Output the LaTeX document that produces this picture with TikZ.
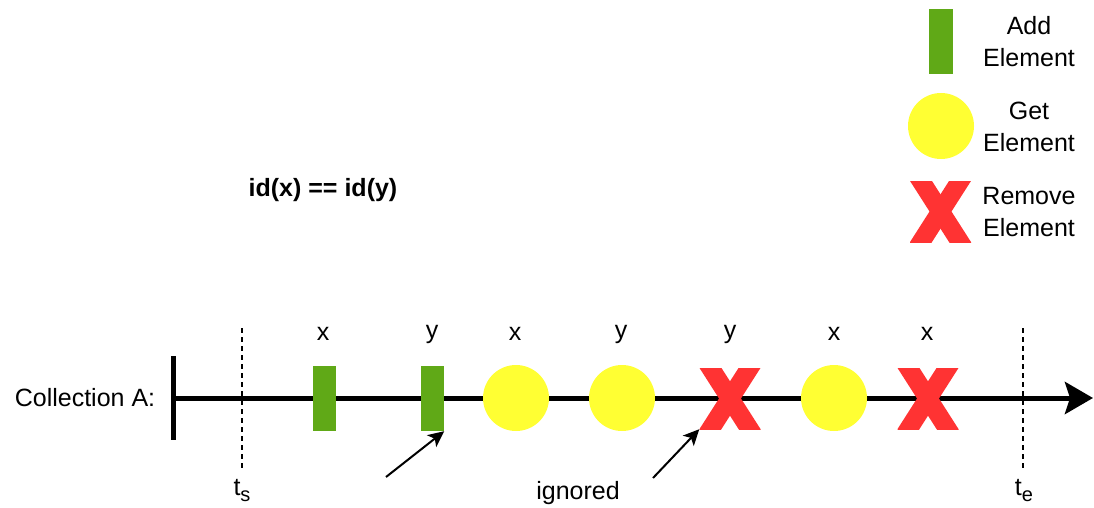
\documentclass[tikz,border=0pt]{standalone}
\usepackage{fontspec}
\setmainfont{Liberation Sans}
\usetikzlibrary{arrows.meta,calc}
\definecolor{addgreen}{HTML}{60A917}
\definecolor{getyellow}{HTML}{FFFF33}
\definecolor{remred}{HTML}{FF3333}
\begin{document}
\begin{tikzpicture}[x=1pt,y=-1pt,
  lbl/.style={inner sep=0pt,font=\fontsize{25}{32}\selectfont},
  legendtxt/.style={lbl,align=center},
  addbox/.style={fill=addgreen,draw=none,minimum width=23pt,minimum height=65pt,inner sep=0pt},
  getdot/.style={circle,fill=getyellow,draw=none,minimum size=66pt,inner sep=0pt},
  remarea/.style={draw=none,minimum width=61pt,minimum height=61pt,inner sep=0pt},
  guide/.style={line width=1.5pt,dash pattern=on 5pt off 4pt},
  pointer/.style={line width=2pt,-{Stealth[length=16pt,width=15pt,inset=4pt]}},
  remove/.pic={
    \begin{scope}
      \clip (-30.5,-30.5) rectangle (30.5,30.5);
      \draw[remred,line width=18.5pt] (-31,-48.5) -- (31,48.5);
      \draw[remred,line width=18.5pt] (31,-48.5) -- (-31,48.5);
    \end{scope}
  }]
\useasboundingbox (0,0) rectangle (1094,508);

% legend
\node[addbox,minimum width=24pt] (lgadd) at (941,41.5) {};
\node[legendtxt] (lgaddt) at (1029,42) {Add\\Element};
\node[getdot] (lgget) at (941,126) {};
\node[legendtxt] (lggett) at (1029,127) {Get\\Element};
\node[remarea] (lgrem) at (940.5,211.5) {};
\pic at (lgrem) {remove};
\node[legendtxt] (lgremt) at (1029,212) {Remove\\Element};

% condition
\node[lbl,font=\fontsize{25}{32}\selectfont\bfseries] (cond) at (323,190) {id(x) == id(y)};

% time window guides
\coordinate (tsTop) at (242,328);
\coordinate (tsBot) at (242,470);
\coordinate (teTop) at (1023,328);
\coordinate (teBot) at (1023,470);
\draw[guide] (tsTop) -- (tsBot);
\draw[guide] (teTop) -- (teBot);

% timeline
\coordinate (start) at (173,398);
\coordinate (stop) at (1093,398);
\draw[line width=5pt] (173,356) -- (173,440);
\draw[line width=5pt,-{Stealth[length=28pt,width=32pt,inset=5pt]}] (start) -- (stop);
\node[lbl] (coll) at (85,398) {Collection A:};

% operations
\node[addbox] (op1) at (324.5,398.5) {};
\node[addbox] (op2) at (432.5,398.5) {};
\node[getdot] (op3) at (516,398) {};
\node[getdot] (op4) at (622,398) {};
\node[remarea] (op5) at (730,398.5) {};
\pic at (op5) {remove};
\node[getdot] (op6) at (834,398) {};
\node[remarea] (op7) at (928,398.5) {};
\pic at (op7) {remove};

\node[lbl] (l1) at (323,334) {x};
\node[lbl] (l2) at (432,334) {y};
\node[lbl] (l3) at (515,334) {x};
\node[lbl] (l4) at (621,334) {y};
\node[lbl] (l5) at (730,334) {y};
\node[lbl] (l6) at (834,334) {x};
\node[lbl] (l7) at (927,334) {x};

% window bounds
\node[lbl] (ts) at (242,491) {t\raisebox{-6pt}{\fontsize{20}{20}\selectfont s}};
\node[lbl] (te) at (1024,491) {t\raisebox{-6pt}{\fontsize{20}{20}\selectfont e}};

% ignored operations
\node[lbl] (ign) at (578,493) {ignored};
\coordinate (p1) at (386,477);
\coordinate (p2) at (653,478);
\draw[pointer] (p1) -- (op2.south east);
\draw[pointer] (p2) -- (op5.south west);
\end{tikzpicture}
\end{document}
